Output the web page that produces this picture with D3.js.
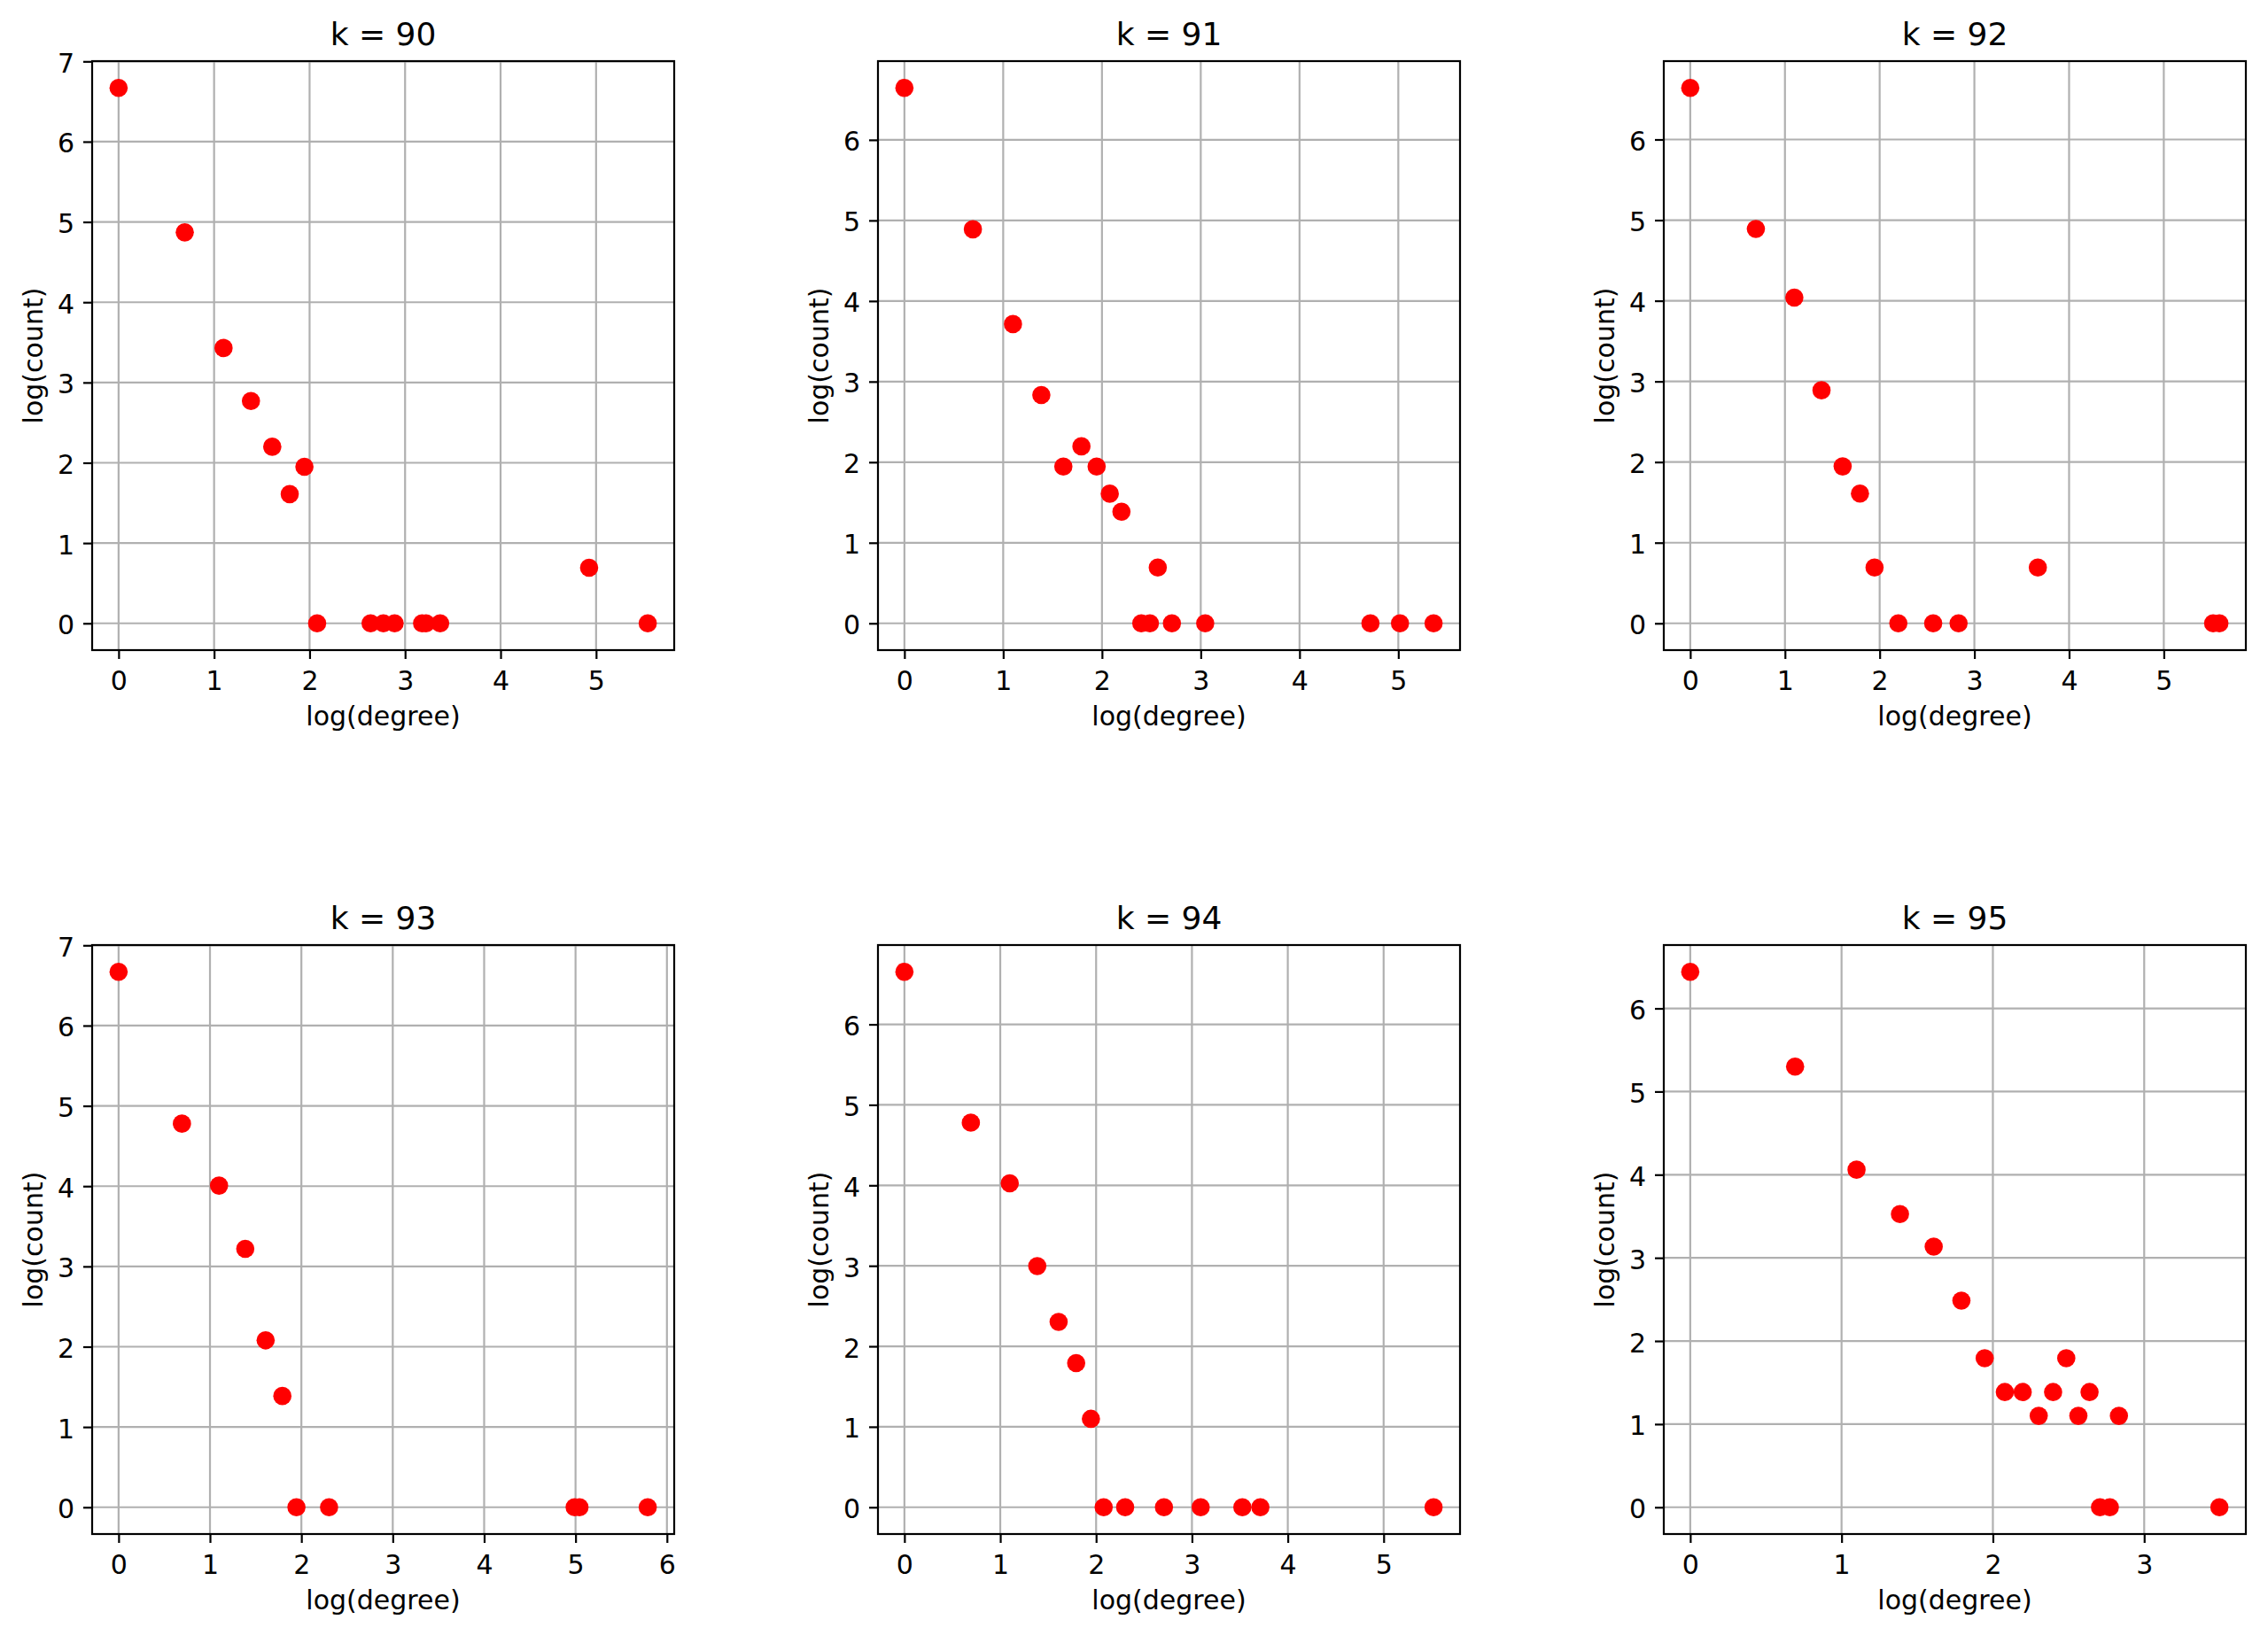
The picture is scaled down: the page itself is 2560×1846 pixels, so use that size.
<!DOCTYPE html>
<html>
<head>
<meta charset="utf-8">
<script src="https://cdn.jsdelivr.net/npm/d3@7"></script>
<style>
  body { margin: 0; background: #fff; }
  svg { display: block; font-family: "DejaVu Sans", sans-serif; }
</style>
</head>
<body>
<svg id="chart" width="2560" height="1846"></svg>
<script>
// log(degree) / log(count) pairs
const logDegree90 = [0, 0.693, 1.099, 1.386, 1.609, 1.792, 1.946, 2.079, 2.639, 2.773, 2.890, 3.178, 3.219, 3.367, 4.927, 5.541];
const logCount90 = [6.67, 4.87, 3.43, 2.77, 2.20, 1.61, 1.95, 0, 0, 0, 0, 0, 0, 0, 0.693, 0];

const logDegree91 = [0, 0.693, 1.099, 1.386, 1.609, 1.792, 1.946, 2.079, 2.197, 2.565, 2.398, 2.485, 2.708, 3.045, 4.718, 5.017, 5.357];
const logCount91 = [6.645, 4.89, 3.714, 2.833, 1.946, 2.197, 1.946, 1.609, 1.386, 0.693, 0, 0, 0, 0, 0, 0, 0];

const logDegree92 = [0, 0.693, 1.099, 1.386, 1.609, 1.792, 1.946, 2.197, 2.565, 2.833, 3.67, 5.521, 5.587];
const logCount92 = [6.64, 4.89, 4.04, 2.89, 1.946, 1.609, 0.693, 0, 0, 0, 0.693, 0, 0];

const logDegree93 = [0, 0.693, 1.099, 1.386, 1.609, 1.792, 1.946, 2.303, 4.990, 5.043, 5.790];
const logCount93 = [6.67, 4.779, 4.007, 3.219, 2.079, 1.386, 0, 0, 0, 0, 0];

const logDegree94 = [0, 0.693, 1.099, 1.386, 1.609, 1.792, 1.946, 2.079, 2.303, 2.708, 3.091, 3.526, 3.714, 5.521];
const logCount94 = [6.653, 4.779, 4.025, 2.996, 2.303, 1.792, 1.099, 0, 0, 0, 0, 0, 0, 0];

const logDegree95 = [0, 0.693, 1.099, 1.386, 1.609, 1.792, 1.946, 2.079, 2.197, 2.303, 2.398, 2.485, 2.565, 2.639, 2.833, 2.708, 2.773, 3.497];
const logCount95 = [6.44, 5.30, 4.06, 3.526, 3.135, 2.485, 1.792, 1.386, 1.386, 1.099, 1.386, 1.792, 1.099, 1.386, 1.099, 0, 0, 0];

const kValues = [90, 91, 92, 93, 94, 95];
const panels = [
  { xs: logDegree90, ys: logCount90 },
  { xs: logDegree91, ys: logCount91 },
  { xs: logDegree92, ys: logCount92 },
  { xs: logDegree93, ys: logCount93 },
  { xs: logDegree94, ys: logCount94 },
  { xs: logDegree95, ys: logCount95 },
];

const colLeft = [104, 991, 1878];
const rowTop = [69, 1067];
const plotW = 657;
const plotH = 665;
const lw = 2.2;
const fontSize = 30;

const svg = d3.select('#chart');

// matplotlib-style 5% margins around the data
function padded(values) {
  const [lo, hi] = d3.extent(values);
  const m = (hi - lo) * 0.05;
  return [lo - m, hi + m];
}

function integerTicks([lo, hi]) {
  return d3.range(Math.ceil(lo), Math.floor(hi) + 1);
}

panels.forEach((p, i) => {
  const left = colLeft[i % 3];
  const top = rowTop[Math.floor(i / 3)];
  const x = d3.scaleLinear().domain(padded(p.xs)).range([0, plotW]);
  const y = d3.scaleLinear().domain(padded(p.ys)).range([plotH, 0]);
  const xTicks = integerTicks(x.domain());
  const yTicks = integerTicks(y.domain());

  const g = svg.append('g').attr('transform', `translate(${left},${top})`);

  g.append('clipPath').attr('id', `clip${i}`)
    .append('rect').attr('width', plotW).attr('height', plotH);

  // grid
  const grid = g.append('g').attr('stroke', '#b0b0b0').attr('stroke-width', lw);
  grid.selectAll('.gx').data(xTicks).join('line').attr('class', 'gx')
    .attr('x1', d => x(d)).attr('x2', d => x(d))
    .attr('y1', 0).attr('y2', plotH);
  grid.selectAll('.gy').data(yTicks).join('line').attr('class', 'gy')
    .attr('x1', 0).attr('x2', plotW)
    .attr('y1', d => y(d)).attr('y2', d => y(d));

  // points
  g.append('g').attr('clip-path', `url(#clip${i})`)
    .selectAll('circle')
    .data(d3.zip(p.xs, p.ys))
    .join('circle')
    .attr('cx', d => x(d[0]))
    .attr('cy', d => y(d[1]))
    .attr('r', 10.3)
    .attr('fill', '#ff0000');

  // axes
  const fmt = d3.format('d');
  const xAxis = g.append('g')
    .attr('transform', `translate(0,${plotH})`)
    .call(d3.axisBottom(x).tickValues(xTicks).tickFormat(fmt)
      .tickSize(10).tickPadding(13.5).tickSizeOuter(0));
  const yAxis = g.append('g')
    .call(d3.axisLeft(y).tickValues(yTicks).tickFormat(fmt)
      .tickSize(10).tickPadding(10).tickSizeOuter(0));

  [xAxis, yAxis].forEach(ax => {
    ax.attr('font-size', fontSize).attr('font-family', '"DejaVu Sans", sans-serif');
    ax.select('.domain').remove();
    ax.selectAll('.tick line').attr('stroke', '#000').attr('stroke-width', lw);
    ax.selectAll('.tick text').attr('fill', '#000');
  });
  yAxis.selectAll('.tick text').attr('dy', '0.4em');

  // frame
  g.append('rect')
    .attr('width', plotW).attr('height', plotH)
    .attr('fill', 'none').attr('stroke', '#000').attr('stroke-width', lw);

  // labels
  g.append('text')
    .attr('x', plotW / 2).attr('y', -18)
    .attr('text-anchor', 'middle').attr('font-size', 36)
    .text(`k = ${kValues[i]}`);

  g.append('text')
    .attr('x', plotW / 2).attr('y', plotH + 85)
    .attr('text-anchor', 'middle').attr('font-size', fontSize)
    .text('log(degree)');

  g.append('text')
    .attr('transform', `translate(-56.5,${plotH / 2}) rotate(-90)`)
    .attr('text-anchor', 'middle').attr('font-size', fontSize)
    .text('log(count)');
});
</script>
</body>
</html>
